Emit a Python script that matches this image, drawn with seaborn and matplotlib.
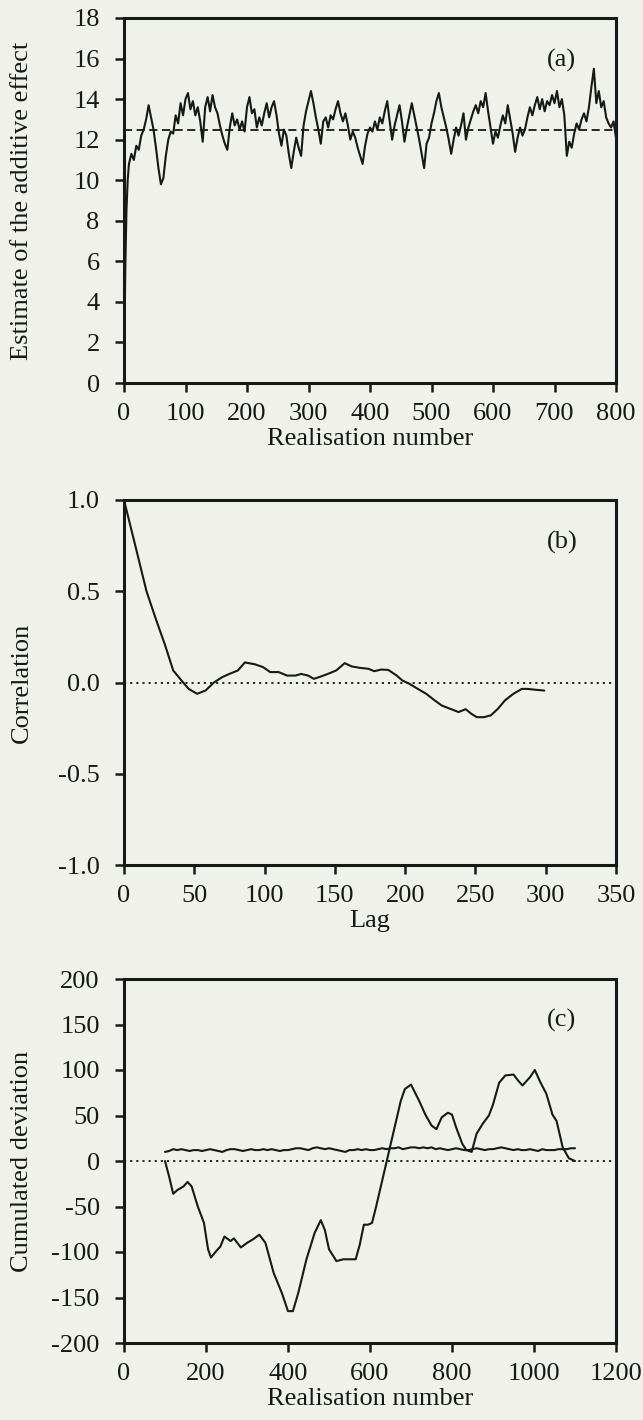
import numpy as np
import pandas as pd
import matplotlib
matplotlib.use("Agg")
import matplotlib.pyplot as plt
import seaborn as sns

# ---------------- data ----------------
# (a) estimate of the additive effect vs realisation number
a_x_start = [0, 2, 4, 6]
a_y_start = [0.2, 5.5, 8.5, 10.0]
a_y_main = [  # realisation 8, 12, ..., 800
    10.8, 11.3, 11.0, 11.7, 11.5, 12.2, 12.5, 13.0, 13.7, 13.1,
    12.5, 11.6, 10.6, 9.8, 10.1, 11.2, 12.0, 12.4, 12.3, 13.2,
    12.8, 13.8, 13.2, 14.0, 14.3, 13.5, 13.9, 13.2, 13.6, 12.9,
    11.9, 13.6, 14.1, 13.4, 14.2, 13.6, 13.3, 12.7, 12.2, 11.8,
    11.5, 12.6, 13.3, 12.7, 13.0, 12.5, 12.9, 12.4, 13.6, 14.1,
    13.3, 13.5, 12.6, 13.1, 12.7, 13.3, 13.8, 13.1, 13.6, 13.9,
    13.2, 12.3, 11.7, 12.5, 12.2, 11.3, 10.6, 11.4, 12.1, 11.6,
    11.2, 12.7, 13.4, 13.9, 14.4, 13.8, 13.1, 12.5, 11.8, 12.9,
    13.1, 12.6, 13.2, 13.0, 13.5, 13.9, 13.3, 12.9, 13.3, 12.7,
    12.0, 12.4, 12.1, 11.6, 11.2, 10.8, 11.7, 12.3, 12.6, 12.4,
    12.9, 12.5, 13.1, 12.8, 13.4, 13.9, 12.9, 12.0, 12.7, 13.2,
    13.7, 12.9, 11.9, 12.6, 13.2, 13.8, 13.2, 12.6, 12.0, 11.3,
    10.6, 11.8, 12.1, 12.8, 13.3, 13.9, 14.3, 13.6, 13.1, 12.6,
    12.0, 11.3, 12.0, 12.6, 12.2, 12.7, 13.3, 12.0, 12.6, 13.0,
    13.4, 13.7, 13.3, 13.9, 13.6, 14.3, 13.4, 12.6, 11.8, 12.4,
    12.1, 12.7, 13.2, 12.8, 13.7, 13.0, 12.3, 11.4, 12.1, 12.6,
    12.2, 12.5, 13.1, 13.6, 13.2, 13.7, 14.1, 13.5, 14.0, 13.4,
    13.9, 13.7, 14.2, 13.8, 14.4, 13.6, 14.0, 13.2, 11.2, 11.9,
    11.6, 12.3, 12.8, 12.5, 13.0, 13.3, 12.9, 13.6, 14.6, 15.5,
    13.8, 14.4, 13.6, 13.9, 13.1, 12.8, 12.6, 12.9, 12.1,
]
a_ref = 12.5

# (b) autocorrelation vs lag
b_lag = [0, 9, 16, 23, 29, 35, 41, 46, 52, 58, 64, 70, 75, 81, 86, 93, 99,
         104, 110, 116, 122, 126, 131, 135, 139, 145, 151, 157, 162, 168, 174,
         178, 183, 188, 194, 198, 203, 209, 215, 221, 226, 232, 238, 243, 247,
         251, 256, 261, 266, 271, 277, 283, 287, 293, 299]
b_corr = [1.0, 0.72, 0.50, 0.34, 0.21, 0.066, 0.01, -0.035, -0.062, -0.044,
          0.0, 0.03, 0.047, 0.066, 0.11, 0.10, 0.084, 0.057, 0.057, 0.038,
          0.038, 0.047, 0.038, 0.02, 0.03, 0.047, 0.066, 0.106, 0.088, 0.08,
          0.075, 0.062, 0.071, 0.069, 0.038, 0.011, -0.007, -0.035, -0.062,
          -0.098, -0.126, -0.144, -0.162, -0.146, -0.171, -0.19, -0.19, -0.18,
          -0.144, -0.098, -0.062, -0.035, -0.035, -0.04, -0.044]

# (c) cumulated deviation vs realisation number
c_x = [100, 110, 120, 130, 145, 155, 165, 180, 195, 205, 212, 225, 235, 245,
       260, 268, 285, 300, 315, 330, 345, 365, 385, 400, 412, 425, 445, 465,
       480, 490, 500, 510, 518, 535, 550, 565, 575, 585, 595, 605, 615, 630,
       645, 660, 675, 685, 700, 710, 720, 735, 750, 762, 775, 790, 800, 810,
       825, 835, 848, 860, 875, 890, 900, 915, 930, 950, 962, 972, 990, 1002,
       1015, 1030, 1045, 1055, 1070, 1085, 1100]
c_cum = [0, -17, -36, -32, -28, -23, -28, -50, -68, -97, -106, -99, -94, -83,
         -88, -85, -95, -90, -86, -81, -90, -123, -145, -165, -165, -145, -108,
         -79, -65, -76, -97, -104, -110, -108, -108, -108, -92, -70, -70, -68,
         -50, -21, 8, 37, 66, 79, 84, 75, 66, 51, 39, 35, 48, 53, 51, 37, 19,
         12, 10, 30, 41, 50, 62, 86, 94, 95, 88, 83, 92, 100, 87, 74, 51, 44,
         15, 3, 0]
c_est = [  # realisation 100, 110, ..., 1100
    10, 11, 13, 12, 13, 12, 11, 12, 12, 11,
    12, 13, 12, 11, 10, 12, 13, 13, 12, 11,
    12, 13, 12, 12, 13, 12, 13, 12, 11, 12,
    12, 13, 14, 14, 13, 12, 14, 15, 14, 13,
    14, 13, 12, 11, 10, 12, 12, 13, 12, 13,
    12, 12, 13, 14, 13, 14, 14, 15, 13, 14,
    15, 15, 14, 15, 14, 15, 13, 14, 13, 12,
    13, 14, 13, 12, 12, 13, 14, 13, 12, 13,
    13, 14, 15, 14, 13, 12, 13, 12, 12, 13,
    12, 11, 13, 12, 12, 12, 13, 13, 13, 14, 14,
]

panel_tags = ["(a)", "(b)", "(c)"]

# ---------------- frames ----------------
df_a = pd.DataFrame({
    "x": a_x_start + list(range(8, 801, 4)),
    "y": a_y_start + a_y_main,
})
df_b = pd.DataFrame({"lag": b_lag, "corr": b_corr})
df_c1 = pd.DataFrame({"x": c_x, "y": c_cum})
df_c2 = pd.DataFrame({"x": list(range(100, 1110, 10)), "y": c_est})

# ---------------- style ----------------
sns.set_theme(style="ticks")
bg = "#f1f1ec"
ink = "#141a15"
plt.rcParams["font.family"] = ["Liberation Serif", "DejaVu Serif"]
plt.rcParams.update({
    "axes.unicode_minus": False,
    "axes.linewidth": 2.2,
    "xtick.major.width": 1.8,
    "ytick.major.width": 1.8,
    "xtick.major.size": 6.5,
    "ytick.major.size": 6.5,
    "xtick.direction": "out",
    "ytick.direction": "out",
    "xtick.labelsize": 19,
    "ytick.labelsize": 19,
    "axes.labelsize": 19,
    "axes.edgecolor": ink,
    "xtick.color": ink,
    "ytick.color": ink,
    "text.color": ink,
    "axes.labelcolor": ink,
})

fig = plt.figure(figsize=(6.43, 14.2), dpi=100, facecolor=bg)
L, W = 124 / 643, 492 / 643
def box(top_px, bot_px):
    return [L, 1 - bot_px / 1420, W, (bot_px - top_px) / 1420]

ax_a = fig.add_axes(box(18, 383))
ax_b = fig.add_axes(box(500, 865))
ax_c = fig.add_axes(box(979, 1343))

line_kw = dict(color=ink, linewidth=1.5)
dash_kw = dict(color=ink, linewidth=1.3)

# (a)
sns.lineplot(data=df_a, x="x", y="y", ax=ax_a, **line_kw)
ax_a.axhline(a_ref, linestyle=(0, (4.5, 2.5)), **dash_kw)
ax_a.set_xlim(0, 800)
ax_a.set_ylim(0, 18)
ax_a.set_xticks(range(0, 801, 100))
ax_a.set_yticks(range(0, 19, 2))
ax_a.set_xlabel("Realisation number", labelpad=2)
ax_a.set_ylabel("Estimate of the additive effect")

# (b)
sns.lineplot(data=df_b, x="lag", y="corr", ax=ax_b, **line_kw)
ax_b.axhline(0, linestyle=(0, (1.2, 2.2)), **dash_kw)
ax_b.set_xlim(0, 350)
ax_b.set_ylim(-1, 1)
ax_b.set_xticks(range(0, 351, 50))
ax_b.set_yticks([-1.0, -0.5, 0.0, 0.5, 1.0])
ax_b.set_yticklabels(["-1.0", "-0.5", "0.0", "0.5", "1.0"])
ax_b.set_xlabel("Lag", labelpad=2)
ax_b.set_ylabel("Correlation")

# (c)
sns.lineplot(data=df_c1, x="x", y="y", ax=ax_c, **line_kw)
sns.lineplot(data=df_c2, x="x", y="y", ax=ax_c, **line_kw)
ax_c.axhline(0, linestyle=(0, (1.2, 2.2)), **dash_kw)
ax_c.set_xlim(0, 1200)
ax_c.set_ylim(-200, 200)
ax_c.set_xticks(range(0, 1201, 200))
ax_c.set_yticks(range(-200, 201, 50))
ax_c.set_xlabel("Realisation number", labelpad=2)
ax_c.set_ylabel("Cumulated deviation")

for ax, tag in zip([ax_a, ax_b, ax_c], panel_tags):
    ax.set_facecolor(bg)
    for s in ax.spines.values():
        s.set_visible(True)
        s.set_linewidth(2.2)
    ax.tick_params(top=False, right=False)
    ax.tick_params(axis="x", pad=8)
    ax.tick_params(axis="y", pad=11)
    ax.yaxis.set_label_coords((22 - 124) / 492, 0.5)
    ax.yaxis.label.set_verticalalignment("center")
    ax.text(0.89, 0.885, tag, transform=ax.transAxes, fontsize=19,
            ha="center", va="center")

fig.savefig("out.png", dpi=100, facecolor=bg)
